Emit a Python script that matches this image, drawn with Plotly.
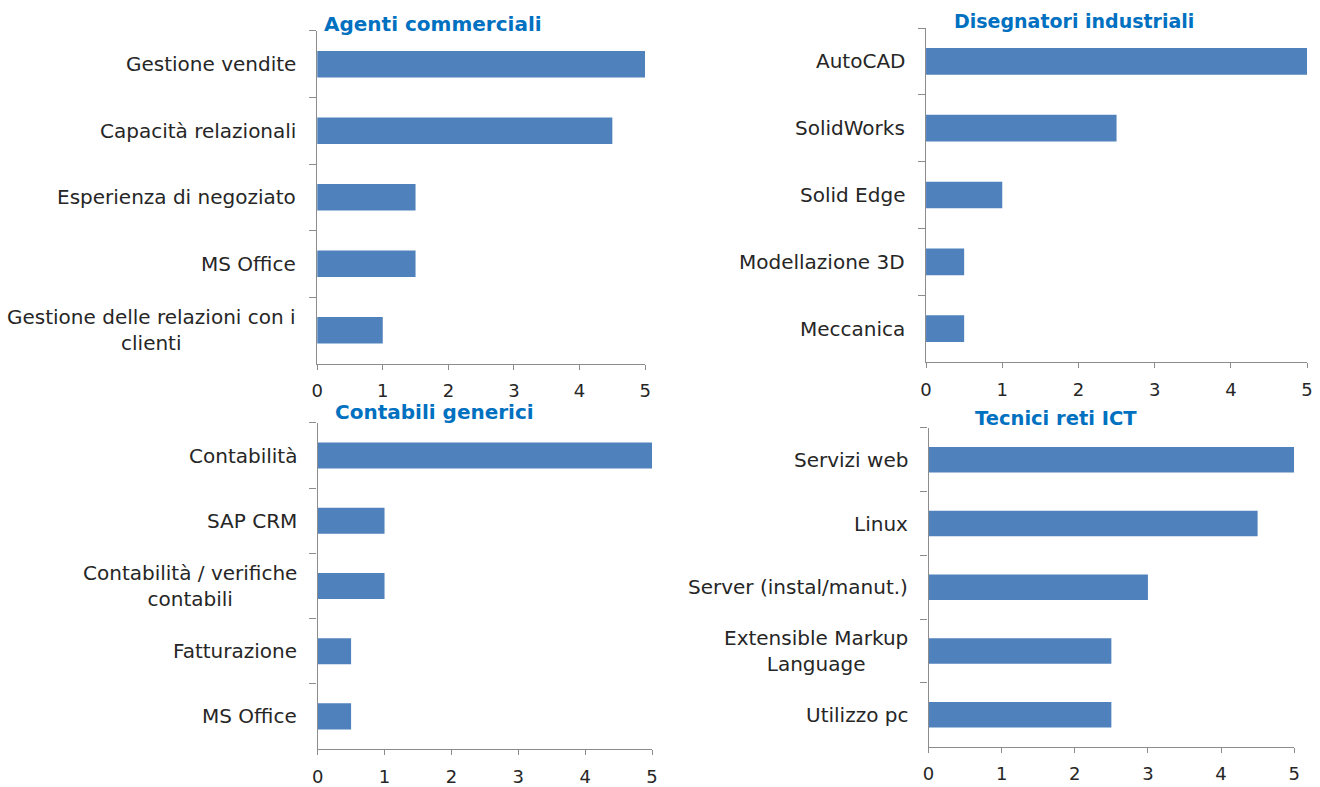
import plotly.graph_objects as go

# ---------------- data ----------------
titles = ["Agenti commerciali", "Disegnatori industriali", "Contabili generici", "Tecnici reti ICT"]

agenti_labels = ["Gestione vendite", "Capacità relazionali", "Esperienza di negoziato", "MS Office",
                 "Gestione delle relazioni con i<br>clienti"]
agenti_values = [5, 4.5, 1.5, 1.5, 1]

disegnatori_labels = ["AutoCAD", "SolidWorks", "Solid Edge", "Modellazione 3D", "Meccanica"]
disegnatori_values = [5, 2.5, 1, 0.5, 0.5]

contabili_labels = ["Contabilità", "SAP CRM", "Contabilità / verifiche<br>contabili", "Fatturazione", "MS Office"]
contabili_values = [5, 1, 1, 0.5, 0.5]

tecnici_labels = ["Servizi web", "Linux", "Server (instal/manut.)", "Extensible Markup<br>Language", "Utilizzo pc"]
tecnici_values = [5, 4.5, 3, 2.5, 2.5]

x_ticks = [0, 1, 2, 3, 4, 5]

# ---------------- layout constants ----------------
W, H = 1320, 787
FONT = "DejaVu Sans"
BAR = "#4F81BD"
AX = "#8C8C8C"
TXT = "#262626"
TITLE_C = "#0070C0"

# plot boxes in pixels: (x0, x1, ytop, ybottom)
boxes = [(314, 645, 31.3, 367.3), (928.5, 1313, 28.3, 365.7),
         (314.5, 652, 427.3, 756.7), (931, 1300, 432.3, 754.3)]
title_pos = [(319, 24), (955, 21.5), (330, 416), (976, 422.5)]
title_size = [20, 19, 20, 19.5]

panels = [(agenti_labels, agenti_values), (disegnatori_labels, disegnatori_values),
          (contabili_labels, contabili_values), (tecnici_labels, tecnici_values)]

fig = go.Figure()
annotations = []
for i, ((labels, values), (x0, x1, yt, yb)) in enumerate(zip(panels, boxes)):
    n = i + 1
    xa = "x" if n == 1 else f"x{n}"
    ya = "y" if n == 1 else f"y{n}"
    fig.add_trace(go.Bar(x=values, y=labels, orientation="h", width=0.4,
                         marker=dict(color=BAR, line=dict(width=0)),
                         xaxis=xa, yaxis=ya, showlegend=False, hoverinfo="x+y"))
    xkey = "xaxis" if n == 1 else f"xaxis{n}"
    ykey = "yaxis" if n == 1 else f"yaxis{n}"
    fig.update_layout({
        xkey: dict(domain=[x0 / W, x1 / W], anchor=ya, range=[0, 5], tickvals=x_ticks,
                   showgrid=False, zeroline=False, showline=True, linecolor=AX, linewidth=1.3,
                   ticks="outside", ticklen=5, tickcolor=AX, tickwidth=1.3, ticklabelstandoff=6,
                   tickfont=dict(family=FONT, size=18, color=TXT), fixedrange=True),
        ykey: dict(domain=[1 - yb / H, 1 - yt / H], anchor=xa, type="category",
                   categoryorder="array", categoryarray=labels, range=[4.5, -0.5],
                   showgrid=False, zeroline=False, showline=True, linecolor=AX, linewidth=1.3,
                   ticks="outside", tickson="boundaries", ticklen=7, tickcolor=AX, tickwidth=1.3,
                   showticklabels=False, fixedrange=True),
    })
    xd = ("x" if n == 1 else f"x{n}") + " domain"
    for lab in labels:
        annotations.append(dict(text=lab, x=0, xref=xd, y=lab, yref=ya, xanchor="right",
                                yanchor="middle", xshift=-19, align="center", showarrow=False,
                                font=dict(family=FONT, size=20, color=TXT)))
    tx, ty = title_pos[i]
    annotations.append(dict(text="<b>" + titles[i] + "</b>", x=tx / W, y=1 - ty / H, xref="paper",
                            yref="paper", xanchor="left", yanchor="middle", showarrow=False,
                            font=dict(family=FONT, size=title_size[i], color=TITLE_C)))

fig.update_layout(width=W, height=H, margin=dict(l=0, r=0, t=0, b=0),
                  paper_bgcolor="white", plot_bgcolor="white",
                  annotations=annotations, bargap=0.6)

fig.write_html("out.html", config={"displayModeBar": False},
               post_script="document.body.style.margin='0';document.body.style.overflow='hidden';")
